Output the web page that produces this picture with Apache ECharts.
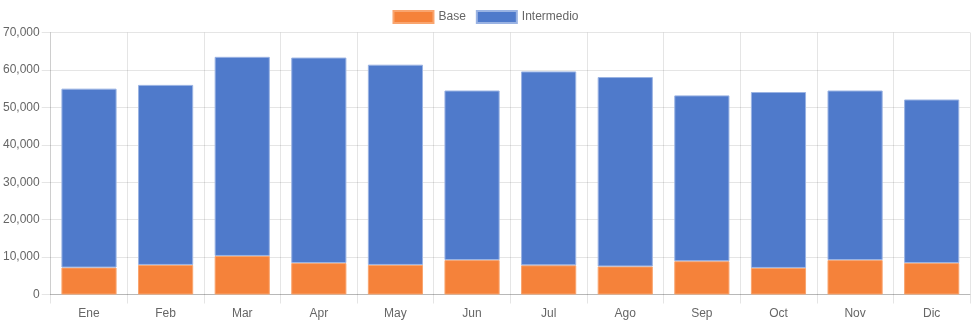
<!DOCTYPE html>
<html><head><meta charset="utf-8">
<script src="https://cdn.jsdelivr.net/npm/echarts@6/dist/echarts.min.js"></script>
<style>html,body{margin:0;padding:0;background:#fff}#c{width:971px;height:323px}</style>
</head><body><div id="c"></div>
<script>
var categories = ['Ene','Feb','Mar','Apr','May','Jun','Jul','Ago','Sep','Oct','Nov','Dic'];
var baseValues = [7200, 7900, 10300, 8400, 7900, 9200, 7800, 7500, 8900, 7100, 9200, 8400];
var intermedioValues = [47800, 48100, 53200, 54900, 53500, 45300, 51800, 50600, 44300, 47000, 45300, 43700];
var seriesNames = ['Base', 'Intermedio'];
var yTicks = {min: 0, max: 70000, interval: 10000};

var font = 'Liberation Sans, Arial, Helvetica, sans-serif';
var chart = echarts.init(document.getElementById('c'), null, {renderer: 'canvas'});
chart.setOption({
  animation: false,
  textStyle: {fontFamily: font},
  legend: {
    top: 5, left: 'center', itemWidth: 40, itemHeight: 12, itemGap: 10,
    icon: 'rect',
    textStyle: {color: '#666', fontSize: 12, fontFamily: font},
    data: seriesNames
  },
  grid: {left: 50, right: 1, top: 32.5, bottom: 28.5, containLabel: false},
  xAxis: {
    type: 'category', data: categories,
    axisLine: {show: true, lineStyle: {color: 'rgba(0,0,0,0.2)'}},
    axisTick: {show: true, length: 9, lineStyle: {color: 'rgba(0,0,0,0.1)'}},
    splitLine: {show: true, lineStyle: {color: 'rgba(0,0,0,0.1)'}},
    axisLabel: {color: '#666', fontSize: 12, margin: 13, fontFamily: font}
  },
  yAxis: {
    type: 'value', min: yTicks.min, max: yTicks.max, interval: yTicks.interval,
    axisLine: {show: true, lineStyle: {color: 'rgba(0,0,0,0.1)'}},
    axisTick: {show: true, length: 9, lineStyle: {color: 'rgba(0,0,0,0.1)'}},
    splitLine: {show: true, lineStyle: {color: 'rgba(0,0,0,0.1)'}},
    axisLabel: {color: '#666', fontSize: 12, margin: 11, fontFamily: font,
      formatter: function(v){ return v.toLocaleString('en-US'); }}
  },
  series: [
    {name: seriesNames[0], type: 'bar', stack: 'total', data: baseValues,
     barCategoryGap: '28%',
     itemStyle: {color: '#F5823A', borderColor: '#F9A56F', borderWidth: 1}},
    {name: seriesNames[1], type: 'bar', stack: 'total', data: intermedioValues,
     barCategoryGap: '28%',
     itemStyle: {color: '#4F7ACB', borderColor: '#9AB3E3', borderWidth: 1}}
  ]
});
</script></body></html>
